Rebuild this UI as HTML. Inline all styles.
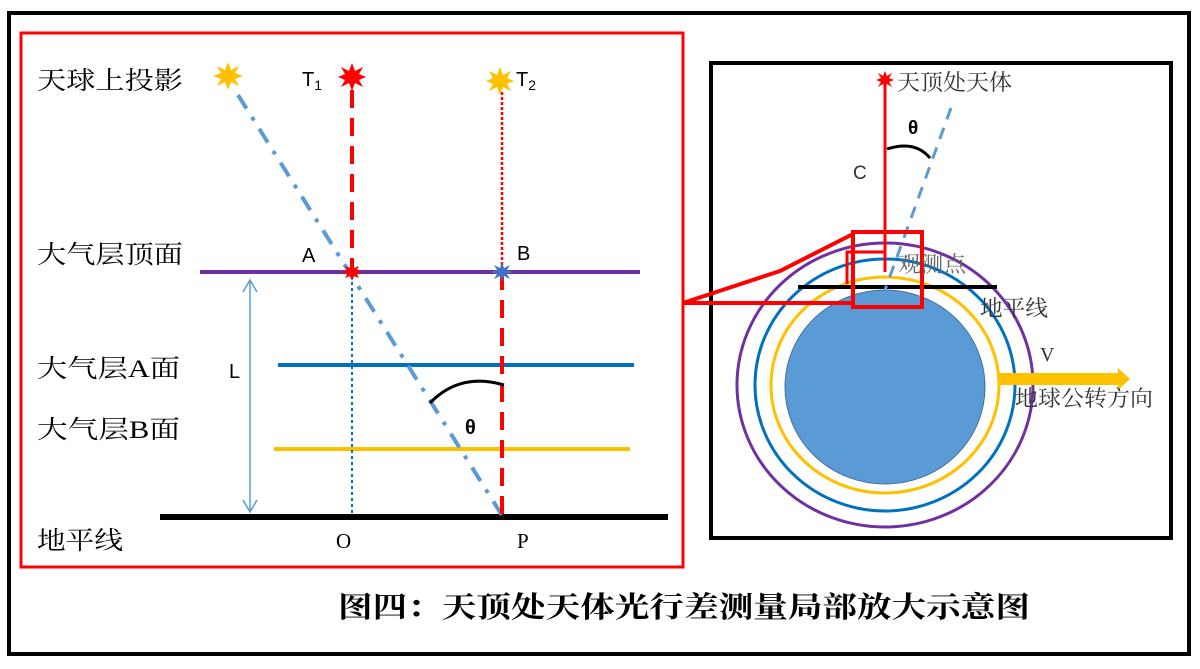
<!DOCTYPE html>
<html><head><meta charset="utf-8"><style>
body{margin:0;background:#fff;width:1200px;height:664px;overflow:hidden}
svg text{font-family:"Liberation Serif","Noto Serif CJK SC",serif}
</style></head><body>
<svg width="1200" height="664" viewBox="0 0 1200 664" xmlns="http://www.w3.org/2000/svg">
<rect x="9" y="13" width="1180" height="641" fill="none" stroke="#000" stroke-width="4"/>
<rect x="21" y="33" width="662" height="534" fill="none" stroke="#f00" stroke-width="3"/>
<!-- left lines -->
<line x1="200" y1="272" x2="640" y2="272" stroke="#7030a0" stroke-width="4"/>
<line x1="278" y1="365" x2="634" y2="365" stroke="#0070c0" stroke-width="4"/>
<line x1="274" y1="449" x2="630" y2="449" stroke="#ffc000" stroke-width="4"/>
<line x1="160" y1="517" x2="668" y2="517" stroke="#000" stroke-width="6"/>
<line x1="238" y1="95" x2="505" y2="520" stroke="#5b9bd5" stroke-width="4" stroke-dasharray="16,10,4,10"/>
<line x1="352" y1="90" x2="352" y2="272" stroke="#f00" stroke-width="4" stroke-dasharray="18,10"/>
<line x1="352" y1="276" x2="352" y2="516" stroke="#0070c0" stroke-width="2" stroke-dasharray="3,3"/>
<line x1="502" y1="92" x2="502" y2="272" stroke="#f00" stroke-width="2.5" stroke-dasharray="3,2"/>
<line x1="502" y1="272" x2="502" y2="517" stroke="#f00" stroke-width="4" stroke-dasharray="18,10"/>
<line x1="250" y1="281" x2="250" y2="510" stroke="#5b9bd5" stroke-width="1.5"/>
<path d="M243 292 L250 280 L257 292 M243 500 L250 512 L257 500" fill="none" stroke="#5b9bd5" stroke-width="1.5"/>
<path d="M430 403 Q460 372 504 385" fill="none" stroke="#000" stroke-width="3"/>
<!-- stars -->
<g fill="#ffc000"><polygon points="228,62 231,70 239,66 235,73 243,76 235,79 239,86 231,82 228,90 225,82 217,86 221,79 213,76 221,73 217,66 225,70"/></g>
<g fill="#f00"><polygon points="352,63 355,71 363,67 359,74 366,77 359,80 363,87 355,83 352,91 349,83 341,87 345,80 338,77 345,74 341,67 349,71"/></g>
<g fill="#ffc000"><polygon points="500,67 503,75 511,71 507,78 514,81 507,84 511,91 503,87 500,95 497,87 489,91 493,84 486,81 493,78 489,71 497,75"/></g>
<g fill="#4472c4"><polygon points="502,262 504,268 510,265 507,270 513,272 507,274 510,279 504,276 502,282 500,276 494,279 497,274 491,272 497,270 494,265 500,268"/></g>
<g fill="#f00"><polygon points="352,263 354,268 359,266 357,270 362,272 357,274 359,278 354,276 352,281 350,276 345,278 347,274 342,272 347,270 345,266 350,268"/></g>
<!-- left labels -->
<g font-size="25" fill="#000">
<text x="37" y="89" textLength="146" lengthAdjust="spacingAndGlyphs">天球上投影</text>
<text x="37" y="263" textLength="146" lengthAdjust="spacingAndGlyphs">大气层顶面</text>
<text x="37" y="377" textLength="143" lengthAdjust="spacingAndGlyphs">大气层A面</text>
<text x="37" y="438" textLength="143" lengthAdjust="spacingAndGlyphs">大气层B面</text>
<text x="37" y="549" textLength="86" lengthAdjust="spacingAndGlyphs">地平线</text>
</g>
<g font-size="20" fill="#000">
<text x="302" y="86" style="font-family:'Liberation Sans',sans-serif">T<tspan font-size="14" dy="4">1</tspan></text>
<text x="516" y="86" style="font-family:'Liberation Sans',sans-serif">T<tspan font-size="14" dy="4">2</tspan></text>
<text x="302" y="262" style="font-family:'Liberation Sans',sans-serif">A</text>
<text x="517" y="260" style="font-family:'Liberation Sans',sans-serif">B</text>
<text x="229" y="378" style="font-family:'Liberation Sans',sans-serif">L</text>
<text x="465" y="434" style="font-family:'Liberation Sans',sans-serif" font-weight="bold">θ</text>
</g>
<text x="336" y="548" font-size="21">O</text>
<text x="517" y="548" font-size="21">P</text>
<!-- caption -->
<text x="338" y="617" font-size="29" font-weight="bold" textLength="692" lengthAdjust="spacingAndGlyphs">图四：天顶处天体光行差测量局部放大示意图</text>
<!-- right box -->
<rect x="711" y="63" width="460" height="475" fill="none" stroke="#000" stroke-width="4"/>
<ellipse cx="885" cy="385" rx="148" ry="142" fill="none" stroke="#7030a0" stroke-width="3"/>
<ellipse cx="885" cy="385" rx="130" ry="126" fill="none" stroke="#0070c0" stroke-width="3"/>
<ellipse cx="885" cy="385" rx="114" ry="108" fill="none" stroke="#ffc000" stroke-width="3"/>
<ellipse cx="885" cy="387" rx="100" ry="97" fill="#5b9bd5" stroke="#41719c" stroke-width="1"/>
<line x1="798" y1="287" x2="997" y2="287" stroke="#000" stroke-width="4"/>
<line x1="885" y1="80" x2="885" y2="272" stroke="#f00" stroke-width="3"/>
<line x1="951" y1="108" x2="885" y2="290" stroke="#5b9bd5" stroke-width="3" stroke-dasharray="12,9"/>
<path d="M887 149 Q915 140 930 158" fill="none" stroke="#000" stroke-width="3"/>
<polygon points="885,71 887,76 892,73 889,78 894,80 889,82 892,87 887,84 885,89 883,84 878,87 881,82 876,80 881,78 878,73 883,76" fill="#f00"/>
<rect x="853" y="232" width="69" height="75" fill="none" stroke="#f00" stroke-width="4"/>
<path d="M847 284 L847 252 L885 252" fill="none" stroke="#f00" stroke-width="3"/>
<path d="M853 234 L780 271 L683 303 L853 303" fill="none" stroke="#f00" stroke-width="4"/>
<polygon points="998,373 1118,373 1118,368 1130,379 1118,390 1118,385 998,385" fill="#ffc000"/>
<g font-size="22" fill="#333">
<text x="897" y="90" textLength="115" lengthAdjust="spacingAndGlyphs">天顶处天体</text>
<text x="898" y="272" fill="#666" textLength="68" lengthAdjust="spacingAndGlyphs">观测点</text>
<text x="980" y="316" textLength="68" lengthAdjust="spacingAndGlyphs">地平线</text>
<text x="1015" y="406" textLength="138" lengthAdjust="spacingAndGlyphs">地球公转方向</text>
<text x="1040" y="361" font-size="20">V</text>
</g>
<text x="853" y="179" font-size="19" fill="#333" style="font-family:'Liberation Sans',sans-serif">C</text>
<text x="908" y="134" font-size="19" fill="#000" font-weight="bold" style="font-family:'Liberation Sans',sans-serif">θ</text>
</svg>
</body></html>
